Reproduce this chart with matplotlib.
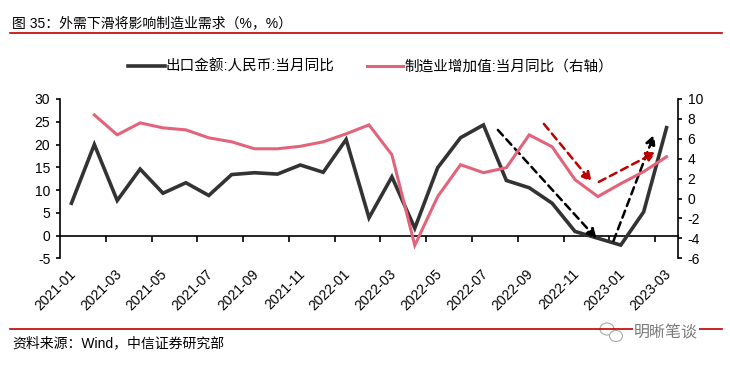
import numpy as np
import matplotlib
matplotlib.use("Agg")
import matplotlib.pyplot as plt
import matplotlib.transforms as mtransforms
from matplotlib.patches import Ellipse

plt.rcParams['font.family'] = ['Liberation Sans', 'Noto Sans CJK SC', 'DejaVu Sans']
plt.rcParams['axes.unicode_minus'] = False

# monthly categories 2021-01 .. 2023-03
months = ["2021-01", "2021-02", "2021-03", "2021-04", "2021-05", "2021-06", "2021-07",
          "2021-08", "2021-09", "2021-10", "2021-11", "2021-12", "2022-01", "2022-02",
          "2022-03", "2022-04", "2022-05", "2022-06", "2022-07", "2022-08", "2022-09",
          "2022-10", "2022-11", "2022-12", "2023-01", "2023-02", "2023-03"]
export_rmb = [7.1, 20.0, 7.7, 14.6, 9.3, 11.6, 8.8, 13.4, 13.8, 13.5, 15.5, 13.9, 21.1, 3.9,
              12.9, 1.6, 14.9, 21.5, 24.3, 12.1, 10.5, 7.1, 0.9, -0.6, -2.1, 5.2, 23.7]
mfg_va = [np.nan, 8.4, 6.4, 7.6, 7.1, 6.9, 6.1, 5.7, 5.0, 5.0, 5.25, 5.7, 6.5, 7.4,
          4.4, -4.7, 0.2, 3.4, 2.6, 3.1, 6.4, 5.2, 1.9, 0.2, 1.5, 2.7, 4.2]
name_export = "出口金额:人民币:当月同比"
name_mfg = "制造业增加值:当月同比（右轴）"

# trend arrows: (x0, y0, x1, y1) in index / axis units
black_arrows = [(18.63, 23.2, 22.95, -0.7), (23.68, -1.2, 25.46, 22.2)]
red_arrows = [(20.64, 7.5, 22.73, 1.67), (23.04, 1.67, 25.55, 4.68)]

x = np.arange(len(months))

fig = plt.figure(figsize=(7.3, 3.66), dpi=100)
ax = fig.add_axes([60/730, 1-258.3/366, (678-60)/730, (258.3-99)/366])
ax2 = ax.twinx()

black = "#333333"
pink = "#E3647A"
dred = "#C00000"

l1, = ax.plot(x, export_rmb, color=black, lw=2.6, solid_joinstyle='miter', zorder=3)
l2, = ax2.plot(x, mfg_va, color=pink, lw=2.2, solid_joinstyle='miter', zorder=3)

for x0, y0, x1, y1 in black_arrows:
    ax.annotate("", xy=(x1, y1), xytext=(x0, y0),
                arrowprops=dict(arrowstyle='-|>', linestyle=(0, (3, 2)), lw=1.8,
                                color='black', mutation_scale=14, shrinkA=0, shrinkB=0),
                zorder=5)
for x0, y0, x1, y1 in red_arrows:
    ax2.annotate("", xy=(x1, y1), xytext=(x0, y0),
                 arrowprops=dict(arrowstyle='-|>', linestyle=(0, (3, 2)), lw=1.8,
                                 color=dred, mutation_scale=14, shrinkA=0, shrinkB=0),
                 zorder=5)

ax.set_xlim(-0.5, len(months) - 0.5)
ax.set_ylim(-5, 30)
ax.set_yticks(np.arange(-5, 31, 5))
ax2.set_ylim(-6, 10)
ax2.set_yticks(np.arange(-6, 11, 2))

for a in (ax, ax2):
    a.spines['top'].set_visible(False)
    a.spines['bottom'].set_visible(False)
ax.spines['right'].set_visible(False)
ax2.spines['left'].set_visible(False)
ax.spines['left'].set_linewidth(1.2)
ax2.spines['right'].set_linewidth(1.2)
ax.tick_params(axis='y', direction='out', length=3, width=1.2, labelsize=10, pad=4)
ax2.tick_params(axis='y', direction='out', length=3, width=1.2, labelsize=10, pad=4)

# category labels at the bottom
ax.set_xticks(x[::2])
ax.set_xticklabels(months[::2], rotation=45, ha='right', va='top', rotation_mode='anchor', fontsize=10)
ax.tick_params(axis='x', length=0, pad=6)
off = mtransforms.ScaledTranslation(-3/100, 0, fig.dpi_scale_trans)
for lab in ax.get_xticklabels():
    lab.set_transform(lab.get_transform() + off)

# zero line with category boundary ticks
sec = ax.secondary_xaxis(5/35)
sec.set_xticks(np.arange(1.5, len(months), 2))
sec.set_xticklabels([])
sec.tick_params(axis='x', direction='out', length=4, width=1.2)
sec.spines['bottom'].set_linewidth(1.2)

fig.legend([l1, l2], [name_export, name_mfg], loc='center', bbox_to_anchor=(0.508, 1-66.7/366),
           ncol=2, frameon=False, fontsize=10.5, handlelength=2.5, handletextpad=0.1,
           columnspacing=2.2)

fig.text(12/730, 1-23/366, "图 35：外需下滑将影响制造业需求（%，%）", fontsize=10,
         va='center', ha='left')
fig.add_artist(plt.Line2D([10/730, 722/730], [1-33.3/366, 1-33.3/366], color=dred, lw=1.2))
fig.add_artist(plt.Line2D([10/730, 722/730], [1-329/366, 1-329/366], color=dred, lw=1.2))
fig.text(12/730, 1-343/366, "资料来源：Wind，中信证券研究部", fontsize=10, va='center', ha='left')

# watermark
fig.text(634/730, 1-333/366, "明晰笔谈", fontsize=11.5, color='#7a7a7a', va='center', ha='left',
         family=['Noto Sans CJK SC'], bbox=dict(facecolor='white', edgecolor='none', pad=1))
fig.add_artist(Ellipse((607/730, 1-329/366), 14/730, 12/366, facecolor='white',
                       edgecolor='#aaaaaa', lw=0.8))
fig.add_artist(Ellipse((616/730, 1-336/366), 13/730, 11/366, facecolor='white',
                       edgecolor='#aaaaaa', lw=0.8))

fig.savefig("out.png", dpi=100)
